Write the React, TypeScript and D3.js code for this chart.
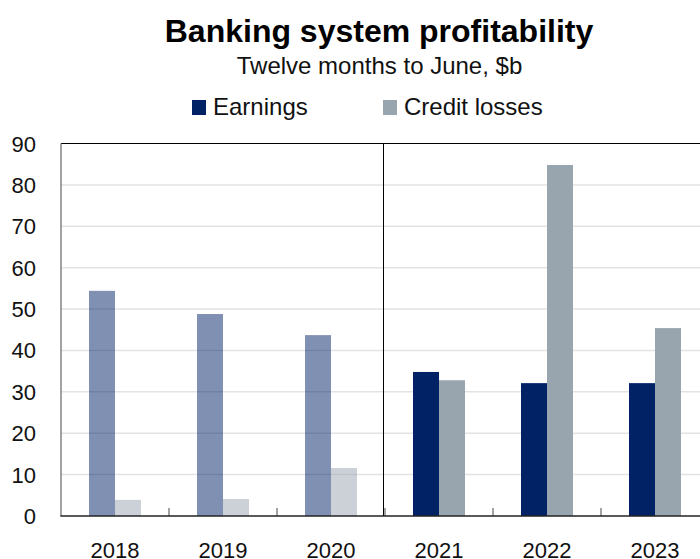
import React from "react";
import * as d3 from "d3";

const years = ["2018", "2019", "2020", "2021", "2022", "2023"];
const earnings = [54.4, 48.8, 43.7, 34.8, 32.1, 32.1];
const creditLosses = [3.9, 4.1, 11.6, 32.8, 84.8, 45.4];
const fadedYears = ["2018", "2019", "2020"];
const seriesNames = ["Earnings", "Credit losses"];
const seriesColors = ["#022266", "#98a4ae"];
const yTicks = [0, 10, 20, 30, 40, 50, 60, 70, 80, 90];

const W = 700;
const H = 559;
const FONT = "'Liberation Sans', Arial, sans-serif";

export default function App() {
  const left = 61;
  const right = 709;
  const top = 143.5;
  const bottom = 516;

  const x0 = d3.scaleBand<string>().domain(years).range([left, right]).padding(0);
  const x1 = d3
    .scaleBand<string>()
    .domain(seriesNames)
    .range([28, x0.bandwidth() - 28])
    .padding(0);
  const y = d3.scaleLinear().domain([0, 90]).range([bottom, top]);

  const data = years.map((yr, i) => ({ year: yr, values: [earnings[i], creditLosses[i]] }));
  const divX = (x0("2021") as number) - 1.5;

  const legendItems = [
    { name: seriesNames[0], color: seriesColors[0], x: 192 },
    { name: seriesNames[1], color: seriesColors[1], x: 383 },
  ];

  return (
    <svg
      width={W}
      height={H}
      style={{ position: "absolute", left: 0, top: 0, background: "#fff" }}
      fontFamily={FONT}
    >
      <rect x={0} y={0} width={W} height={H} fill="#fff" />
      <text x={379} y={42} textAnchor="middle" fontSize={32} fontWeight="bold" fill="#000">
        Banking system profitability
      </text>
      <text x={379.5} y={74} textAnchor="middle" fontSize={24} fill="#111">
        Twelve months to June, $b
      </text>
      {legendItems.map((it) => (
        <g key={it.name}>
          <rect x={it.x} y={100} width={14} height={15} fill={it.color} />
          <text x={it.x + 21} y={115} fontSize={24} fill="#111">
            {it.name}
          </text>
        </g>
      ))}

      {/* gridlines */}
      {yTicks
        .filter((t) => t > 0 && t < 90)
        .map((t) => (
          <line key={t} x1={left} x2={W} y1={y(t)} y2={y(t)} stroke="#e3e3e3" strokeWidth={1.5} />
        ))}

      {/* bars */}
      {data.map((d) => {
        const faded = fadedYears.includes(d.year);
        return (
          <g key={d.year} transform={`translate(${x0(d.year)},0)`}>
            {d.values.map((v, j) => (
              <rect
                key={j}
                x={x1(seriesNames[j])}
                y={y(v)}
                width={x1.bandwidth()}
                height={y(0) - y(v)}
                fill={seriesColors[j]}
                fillOpacity={faded ? 0.5 : 1}
              />
            ))}
          </g>
        );
      })}

      {/* frame */}
      <line x1={left} x2={W} y1={top} y2={top} stroke="#000" strokeWidth={1.2} />
      <line x1={left} x2={left} y1={top} y2={bottom} stroke="#666" strokeWidth={1.2} />
      <line x1={divX} x2={divX} y1={top} y2={bottom} stroke="#000" strokeWidth={1} />
      {years.map((yr) => {
        const xx = (x0(yr) as number) + x0.bandwidth();
        return <line key={yr} x1={xx} x2={xx} y1={bottom - 8} y2={bottom} stroke="#666" strokeWidth={1.2} />;
      })}
      <line x1={left - 0.6} x2={W} y1={bottom} y2={bottom} stroke="#222" strokeWidth={1.6} />

      {/* y labels */}
      {yTicks.map((t) => (
        <text key={t} x={36} y={y(t) + 8} textAnchor="end" fontSize={22} fill="#111">
          {t}
        </text>
      ))}
      {/* x labels */}
      {years.map((yr) => (
        <text
          key={yr}
          x={(x0(yr) as number) + x0.bandwidth() / 2}
          y={558}
          textAnchor="middle"
          fontSize={22}
          fill="#111"
        >
          {yr}
        </text>
      ))}
    </svg>
  );
}
